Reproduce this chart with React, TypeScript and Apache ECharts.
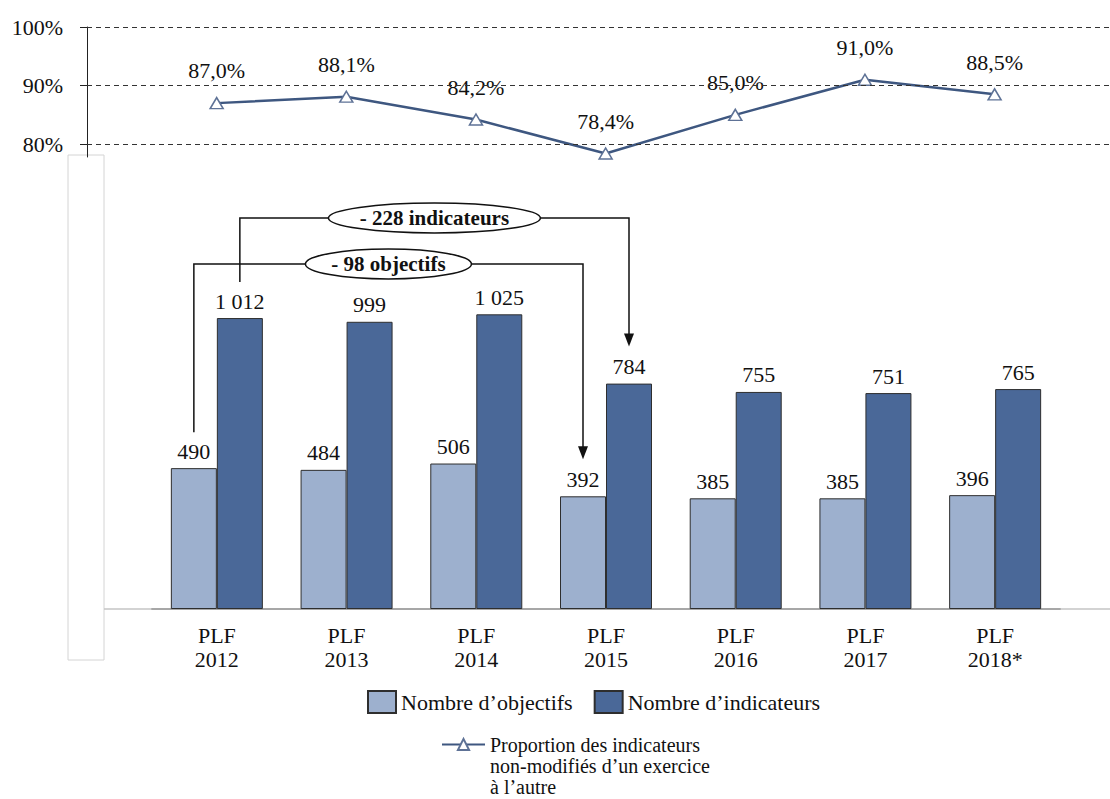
import React, { useEffect, useRef } from 'react';
import * as echarts from 'echarts';

// ---- data ----
const categories = ['PLF\n2012', 'PLF\n2013', 'PLF\n2014', 'PLF\n2015', 'PLF\n2016', 'PLF\n2017', 'PLF\n2018*'];
const objectifs = [490, 484, 506, 392, 385, 385, 396];
const indicateurs = [1012, 999, 1025, 784, 755, 751, 765];
const proportion = [87.0, 88.1, 84.2, 78.4, 85.0, 91.0, 88.5];
const pctTicks = [80, 90, 100];

const nameObj = 'Nombre d’objectifs';
const nameInd = 'Nombre d’indicateurs';
const nameProp = 'Proportion des indicateurs\nnon-modifiés d’un exercice\nà l’autre';

// annotation brackets (series 0 = objectifs, 1 = indicateurs)
const annotations = [
  { label: '- 228 indicateurs', series: 1, from: 0, to: 3, level: 218, rx: 106 },
  { label: '- 98 objectifs', series: 0, from: 0, to: 3, level: 264, rx: 83 },
];

const FONT = 'Liberation Serif';
const TXT = '#111';
const BAR_W = 46;

const fmtNum = (v: number) =>
  v >= 1000 ? `${Math.floor(v / 1000)} ${String(v % 1000).padStart(3, '0')}` : String(v);

export default function App() {
  const ref = useRef<HTMLDivElement>(null);

  useEffect(() => {
    document.body.style.margin = '0';
    const el = ref.current!;
    const chart = echarts.init(el, null, { renderer: 'svg' });

    const font = { fontFamily: FONT, fontSize: 22, color: TXT };

    const option: any = {
      animation: false,
      grid: [
        { left: 87, right: 0, top: 27, bottom: 642 },
        { left: 152, right: 50, top: 264, bottom: 190 },
      ],
      xAxis: [
        { gridIndex: 0, type: 'value', min: -1, max: 6.89, show: false },
        {
          gridIndex: 1,
          type: 'category',
          data: categories,
          axisLine: { show: true, lineStyle: { color: '#8a8a8a', width: 1.5 } },
          axisTick: { show: false },
          axisLabel: { ...font, lineHeight: 24, margin: 14 },
        },
      ],
      yAxis: [
        {
          gridIndex: 0,
          type: 'value',
          min: 77.8,
          max: 100,
          axisLine: { show: true, onZero: false, lineStyle: { color: '#222' } },
          axisTick: { show: true, customValues: pctTicks, length: 7, lineStyle: { color: '#222' } },
          axisLabel: { ...font, customValues: pctTicks, formatter: '{value}%', margin: 24 },
          splitLine: { show: false },
        },
        { gridIndex: 1, type: 'value', min: 0, max: 1200, show: false, splitLine: { show: false } },
      ],
      legend: [
        {
          data: [nameObj, nameInd],
          left: 367,
          top: 690,
          padding: 0,
          icon: 'rect',
          itemWidth: 28,
          itemHeight: 22,
          itemGap: 21,
          textStyle: { ...font },
        },
        {
          data: [nameProp],
          left: 441,
          top: 692,
          padding: 0,
          itemWidth: 43,
          itemHeight: 14,
          formatter: (n: string) => '\n\n' + n,
          textStyle: { ...font, fontSize: 20, lineHeight: 21 },
        },
      ],
      series: [
        {
          type: 'bar',
          name: nameObj,
          xAxisIndex: 1,
          yAxisIndex: 1,
          data: objectifs,
          barWidth: BAR_W,
          barGap: '0%',
          itemStyle: { color: '#9DB0CE', borderColor: '#2e2e2e', borderWidth: 1 },
          label: { show: true, position: 'top', distance: 6, ...font, formatter: (p: any) => fmtNum(p.value) },
        },
        {
          type: 'bar',
          name: nameInd,
          xAxisIndex: 1,
          yAxisIndex: 1,
          data: indicateurs,
          barWidth: BAR_W,
          barGap: '0%',
          itemStyle: { color: '#4A6898', borderColor: '#2e2e2e', borderWidth: 1 },
          label: { show: true, position: 'top', distance: 6, ...font, formatter: (p: any) => fmtNum(p.value) },
        },
        {
          type: 'line',
          name: nameProp,
          xAxisIndex: 0,
          yAxisIndex: 0,
          data: proportion.map((v, i) => [i, v]),
          symbol: 'triangle',
          symbolSize: [13, 11],
          lineStyle: { color: '#3E5780', width: 2.5 },
          itemStyle: { color: '#fff', borderColor: '#5E7296', borderWidth: 1.5 },
          label: {
            show: true,
            position: 'top',
            distance: 15,
            ...font,
            formatter: (p: any) => p.value[1].toFixed(1).replace('.', ',') + '%',
          },
          markLine: {
            silent: true,
            symbol: 'none',
            label: { show: false },
            lineStyle: { color: '#333', type: [5, 4], width: 1 },
            data: pctTicks.map((v) => ({ yAxis: v })),
          },
          z: 3,
        },
      ],
    };
    chart.setOption(option);

    const seriesData = [objectifs, indicateurs];
    const pt = (cat: number, val: number) => chart.convertToPixel({ gridIndex: 1 } as any, [cat, val]) as number[];
    const graphics: any[] = [];

    // left framing box and baseline extensions
    const base = pt(0, 0)[1];
    const band = pt(1, 0)[0] - pt(0, 0)[0];
    const leftEdge = pt(0, 0)[0] - band / 2;
    const rightEdge = pt(categories.length - 1, 0)[0] + band / 2;
    graphics.push({
      type: 'rect',
      shape: { x: 68, y: 155, width: 36, height: 505 },
      style: { fill: 'none', stroke: '#d4d4d4', lineWidth: 1 },
      silent: true,
    });
    graphics.push({
      type: 'line',
      shape: { x1: 104, y1: base, x2: leftEdge, y2: base },
      style: { stroke: '#c4c4c4', lineWidth: 1.5 },
      silent: true,
    });
    graphics.push({
      type: 'line',
      shape: { x1: rightEdge, y1: base, x2: 1110, y2: base },
      style: { stroke: '#c4c4c4', lineWidth: 1.5 },
      silent: true,
    });

    annotations.forEach((a) => {
      const off = a.series === 0 ? -BAR_W / 2 : BAR_W / 2;
      const d = seriesData[a.series];
      const x1 = pt(a.from, 0)[0] + off;
      const y1 = pt(a.from, d[a.from])[1] - 36;
      const x2 = pt(a.to, 0)[0] + off;
      const y2 = pt(a.to, d[a.to])[1] - 37;
      const yl = a.level;
      graphics.push({
        type: 'polyline',
        shape: { points: [[x1, y1], [x1, yl], [x2, yl], [x2, y2 - 10]] },
        style: { stroke: '#111', lineWidth: 1.5, fill: 'none' },
        z: 10,
        silent: true,
      });
      graphics.push({
        type: 'polygon',
        shape: { points: [[x2 - 5, y2 - 13], [x2 + 5, y2 - 13], [x2, y2]] },
        style: { fill: '#111' },
        z: 10,
        silent: true,
      });
      graphics.push({
        type: 'ellipse',
        shape: { cx: (x1 + x2) / 2, cy: yl, rx: a.rx, ry: 15 },
        style: { fill: '#fff', stroke: '#111', lineWidth: 1.5 },
        z: 11,
        silent: true,
      });
      graphics.push({
        type: 'text',
        x: (x1 + x2) / 2,
        y: yl,
        style: {
          text: a.label,
          fontFamily: FONT,
          fontSize: 21,
          fontWeight: 'bold',
          fill: '#111',
          align: 'center',
          verticalAlign: 'middle',
        },
        z: 12,
        silent: true,
      });
    });

    chart.setOption({ graphic: graphics });

    return () => chart.dispose();
  }, []);

  return <div ref={ref} style={{ width: 1110, height: 799 }} />;
}
